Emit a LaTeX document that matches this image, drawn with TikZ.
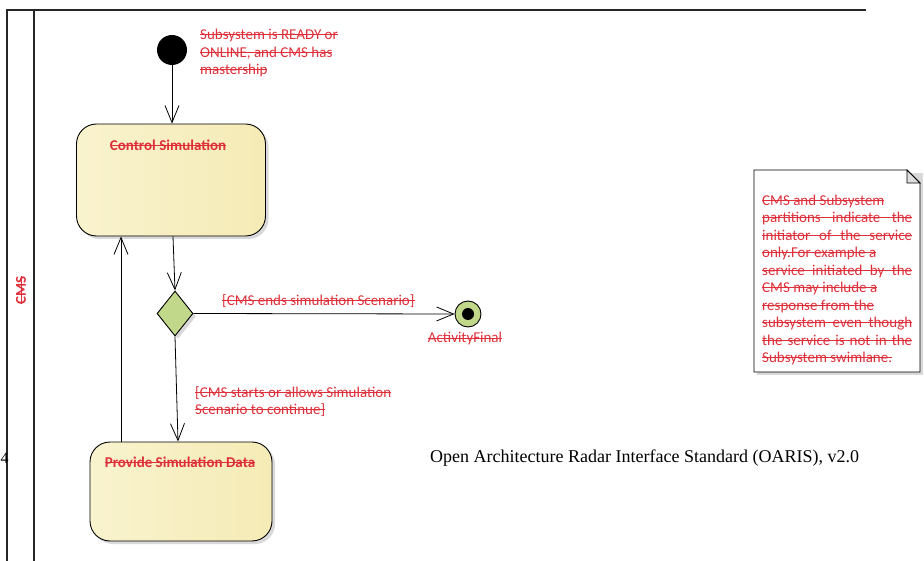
\documentclass[tikz,border=0pt]{standalone}
\usepackage{fontspec}
\setmainfont{Carlito}
\newfontfamily\capfont{Liberation Serif}
\usetikzlibrary{arrows.meta,shadows,shapes.geometric,calc}
\definecolor{umlred}{RGB}{222,48,58}
\definecolor{actR}{RGB}{245,235,182}
\definecolor{actL}{RGB}{249,243,206}
\definecolor{decfill}{RGB}{193,216,138}
\definecolor{foldgray}{RGB}{222,222,222}
\newsavebox\stkbox
\newcommand\stk[1]{\sbox\stkbox{#1}\rlap{\rule[0.28em]{\wd\stkbox}{0.075em}}\usebox\stkbox}
\newcommand\jline[1]{\stk{\makebox[150pt][s]{#1}}}
\tikzset{
  redtxt/.style={text=umlred, font=\fontsize{15}{17.5}\selectfont, inner sep=0pt},
  boldred/.style={text=umlred, font=\fontsize{15}{17.5}\selectfont\bfseries, inner sep=0pt},
  shadowed/.style={drop shadow={opacity=0.25, shadow xshift=3pt, shadow yshift=-3pt, fill=black!60}},
  actbox/.style={draw=black, line width=0.9pt, rounded corners=20pt, left color=actL, right color=actR, shadowed, inner sep=0pt},
  decision/.style={diamond, draw=black, line width=0.9pt, fill=decfill, shadowed, minimum width=36pt, minimum height=45pt, inner sep=0pt},
  initnode/.style={circle, fill=black, minimum size=30pt, inner sep=0pt},
  finalnode/.style={circle, draw=black, line width=0.9pt, fill=decfill, minimum size=26pt, inner sep=0pt},
  flow/.style={line width=0.8pt, -{Straight Barb[length=17pt, width=14pt, line width=0.8pt]}},
  lane/.style={line width=1.8pt, black!85},
  notebox/.style={draw=black, line width=0.8pt, fill=white}
}
\begin{document}
\begin{tikzpicture}[x=1pt, y=-1pt]
\useasboundingbox (0,0) rectangle (924,561);
% swimlane frame
\draw[lane] (7,561) -- (7,10) -- (866,10);
\draw[lane] (34,10) -- (34,561);
\node[boldred, rotate=90] (lanelbl) at (21,290) {\stk{CMS}};
\node[font=\capfont\fontsize{16}{18}\selectfont, inner sep=0pt, anchor=west] (pagenum) at (0.5,458) {4};

% nodes
\node[initnode] (init) at (172,50) {};
\node[redtxt, anchor=north west, align=left] (initnote) at (200,29)
  {\stk{Subsystem is READY or}\\\stk{ONLINE, and CMS has}\\\stk{mastership}};

\node[actbox, minimum width=189pt, minimum height=112pt] (cs) at (171,180) {};
\node[boldred] (cstitle) at (168,145) {\stk{Control Simulation}};

\node[decision] (dec) at (175,313.5) {};
\node[finalnode] (fin) at (468,314) {};
\node[circle, fill=black, minimum size=12pt, inner sep=0pt] (findot) at (fin.center) {};
\node[redtxt] (finlbl) at (465,339) {\stk{ActivityFinal}};

\node[actbox, minimum width=182pt, minimum height=99pt] (psd) at (181,491.5) {};
\node[boldred] (psdtitle) at (180,462) {\stk{Provide Simulation Data}};

% connectors
\draw[flow] (init) -- (cs.north -| init);
\draw[flow] ($(cs.south)+(2,0)$) -- (dec.north);
\draw[flow] (dec.east) -- (fin.west);
\draw[flow] (dec.south) -- ($(psd.north)+(-3,0)$);
\coordinate (upx) at (121,0);
\draw[flow] (psd.north -| upx) -- (cs.south -| upx);

\node[redtxt, anchor=west] (g1) at (222,301) {\stk{[CMS ends simulation Scenario]}};
\node[redtxt, anchor=north west, align=left] (g2) at (195,386)
  {\stk{[CMS starts or allows Simulation}\\\stk{Scenario to continue]}};

% note
\fill[black!60, opacity=0.25] (757,173) -- (923,173) -- (923,375) -- (757,375) -- cycle;
\draw[notebox] (754,170) -- (907,170) -- (920,183) -- (920,372) -- (754,372) -- cycle;
\draw[line width=0.8pt, fill=foldgray] (907,170) -- (907,183) -- (920,183) -- cycle;
\node[redtxt, anchor=north west, align=left] (notetxt) at (762,194.5)
  {\stk{CMS and Subsystem}\\
   \jline{partitions indicate the}\\
   \jline{initiator of the service}\\
   \stk{only.For example a}\\
   \jline{service initiated by the}\\
   \stk{CMS may include a}\\
   \stk{response from the}\\
   \jline{subsystem even though}\\
   \jline{the service is not in the}\\
   \stk{Subsystem swimlane.}};

% caption
\node[font=\capfont\fontsize{18}{20}\selectfont, inner sep=0pt, anchor=west] (caption) at (430,458)
  {Open Architecture Radar Interface Standard (OARIS), v2.0};
\end{tikzpicture}
\end{document}
